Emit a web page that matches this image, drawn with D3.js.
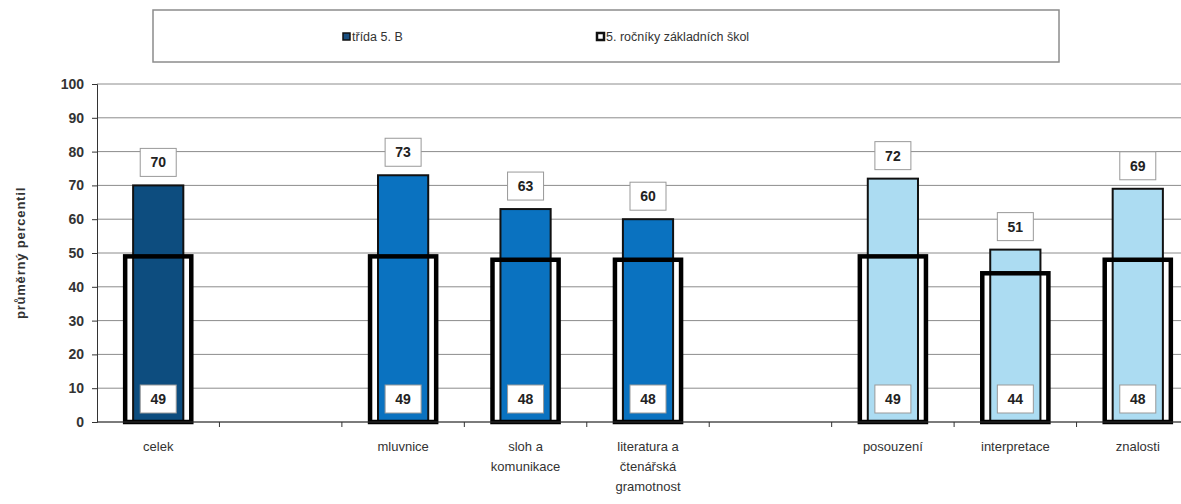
<!DOCTYPE html>
<html>
<head>
<meta charset="utf-8">
<script src="https://cdn.jsdelivr.net/npm/d3@7"></script>
<style>
  body { margin: 0; background: #fff; }
  svg { display: block; font-family: Arial, "Liberation Sans", sans-serif; }
</style>
</head>
<body>
<div id="chart"></div>
<script>
const width = 1181, height = 504;

// data (empty strings are gap slots)
const categories = ["celek", "", "mluvnice", "sloh a\nkomunikace", "literatura a\nčtenářská\ngramotnost", "", "posouzení", "interpretace", "znalosti"];
const classValues = [70, null, 73, 63, 60, null, 72, 51, 69];
const schoolValues = [49, null, 49, 48, 48, null, 49, 44, 48];
const groupColors = ["#0d4d7f", null, "#0a72c0", "#0a72c0", "#0a72c0", null, "#acdcf2", "#acdcf2", "#acdcf2"];
const yTicks = [0, 10, 20, 30, 40, 50, 60, 70, 80, 90, 100];
const legendLabels = ["třída  5. B", "5. ročníky základních škol"];

const margin = { left: 97, top: 84, bottom: 82 };

const svg = d3.select("#chart").append("svg")
  .attr("width", width)
  .attr("height", height);

const x = d3.scaleBand()
  .domain(categories.map((d, i) => i))
  .range([margin.left, 1199])
  .padding(0);

const y = d3.scaleLinear()
  .domain([0, 100])
  .range([height - margin.bottom, margin.top]);

// gridlines
svg.append("g")
  .selectAll("line")
  .data(yTicks)
  .join("line")
  .attr("x1", margin.left)
  .attr("x2", width)
  .attr("y1", d => y(d))
  .attr("y2", d => y(d))
  .attr("stroke", "#8c8c8c")
  .attr("stroke-width", 1);

// y axis
const yAxis = svg.append("g")
  .attr("transform", `translate(${margin.left},0)`)
  .call(d3.axisLeft(y).tickValues(yTicks).tickSize(5).tickPadding(8));
yAxis.select(".domain").attr("stroke", "#333");
yAxis.selectAll(".tick line").attr("stroke", "#333");
yAxis.selectAll("text")
  .attr("font-size", 14)
  .attr("font-weight", "bold")
  .attr("fill", "#333");

svg.append("text")
  .attr("transform", `translate(25,${(y(0) + y(100)) / 2}) rotate(-90)`)
  .attr("text-anchor", "middle")
  .attr("font-size", 13)
  .attr("font-weight", "bold")
  .attr("fill", "#333")
  .attr("letter-spacing", 0.8)
  .text("průměrný percentil");

const cats = categories.map((c, i) => ({ c, i, v: classValues[i], s: schoolValues[i], col: groupColors[i] }))
  .filter(d => d.v != null);

const bw = x.bandwidth();
const innerW = bw * 0.41;
const outerW = bw * 0.54;

// white backing of the wide bars
svg.append("g")
  .selectAll("rect")
  .data(cats)
  .join("rect")
  .attr("x", d => x(d.i) + (bw - outerW) / 2)
  .attr("width", outerW)
  .attr("y", d => y(d.s))
  .attr("height", d => y(0) - y(d.s))
  .attr("fill", "#fff");

// class bars
svg.append("g")
  .selectAll("rect")
  .data(cats)
  .join("rect")
  .attr("x", d => x(d.i) + (bw - innerW) / 2)
  .attr("width", innerW)
  .attr("y", d => y(d.v))
  .attr("height", d => y(0) - y(d.v))
  .attr("fill", d => d.col)
  .attr("stroke", "#111")
  .attr("stroke-width", 2);

// wide outline bars
svg.append("g")
  .selectAll("rect")
  .data(cats)
  .join("rect")
  .attr("x", d => x(d.i) + (bw - outerW) / 2)
  .attr("width", outerW)
  .attr("y", d => y(d.s))
  .attr("height", d => y(0) - y(d.s))
  .attr("fill", "none")
  .attr("stroke", "#000")
  .attr("stroke-width", 4.5);

// x axis
svg.append("line")
  .attr("x1", margin.left).attr("x2", width)
  .attr("y1", y(0)).attr("y2", y(0))
  .attr("stroke", "#333");
svg.append("g")
  .selectAll("line")
  .data(d3.range(1, categories.length + 1))
  .join("line")
  .attr("x1", i => x.range()[0] + i * bw)
  .attr("x2", i => x.range()[0] + i * bw)
  .attr("y1", y(0))
  .attr("y2", y(0) + 5)
  .attr("stroke", "#333");

svg.append("g")
  .selectAll("text")
  .data(categories.map((c, i) => ({ c, i })).filter(d => d.c))
  .join("text")
  .attr("text-anchor", "middle")
  .attr("font-size", 13)
  .attr("fill", "#333")
  .each(function (d) {
    d3.select(this).selectAll("tspan")
      .data(d.c.split("\n"))
      .join("tspan")
      .attr("x", x(d.i) + bw / 2)
      .attr("y", (t, k) => y(0) + 29 + k * 20)
      .text(t => t);
  });

// value labels
function valueBox(g, cx, cy, txt) {
  g.append("rect")
    .attr("x", cx - 18).attr("y", cy - 14)
    .attr("width", 36).attr("height", 28)
    .attr("fill", "#fff")
    .attr("stroke", "#999")
    .attr("stroke-width", 1);
  g.append("text")
    .attr("x", cx).attr("y", cy + 5)
    .attr("text-anchor", "middle")
    .attr("font-size", 14)
    .attr("font-weight", "bold")
    .attr("fill", "#222")
    .text(txt);
}
const labels = svg.append("g");
cats.forEach(d => {
  const cx = x(d.i) + bw / 2;
  valueBox(labels, cx, y(d.v) - 23, d.v);
  valueBox(labels, cx, y(0) - 23, d.s);
});

// legend
const legend = svg.append("g");
legend.append("rect")
  .attr("x", 153).attr("y", 10)
  .attr("width", 906).attr("height", 52)
  .attr("fill", "#fff")
  .attr("stroke", "#8c8c8c")
  .attr("stroke-width", 1.5);
const legendX = [343, 597];
legendLabels.forEach((t, i) => {
  legend.append("rect")
    .attr("x", legendX[i]).attr("y", 33)
    .attr("width", 7).attr("height", 7)
    .attr("fill", i === 0 ? "#1a4f80" : "#fff")
    .attr("stroke", "#111")
    .attr("stroke-width", i === 0 ? 1.5 : 2.5);
  legend.append("text")
    .attr("x", legendX[i] + 9).attr("y", 41)
    .attr("font-size", 12.5)
    .attr("fill", "#333")
    .text(t);
});
</script>
</body>
</html>
